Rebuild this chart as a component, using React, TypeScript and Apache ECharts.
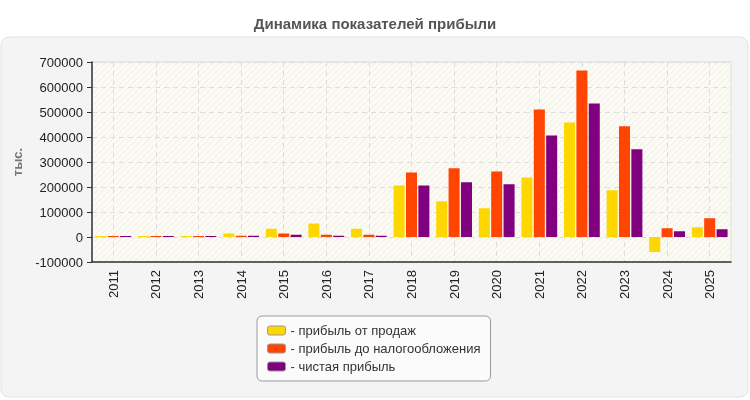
import React, { useEffect, useRef } from "react";
import * as echarts from "echarts";

const years = ["2011","2012","2013","2014","2015","2016","2017","2018","2019","2020","2021","2022","2023","2024","2025"];
const salesProfit = [4000, 4000, 4000, 14000, 33000, 54000, 33000, 206000, 143000, 115000, 238000, 458000, 187000, -60000, 39000];
const preTaxProfit = [4000, 4000, 4000, 5000, 14000, 9000, 9000, 258000, 275000, 262000, 510000, 666000, 443000, 35000, 75000];
const netProfit = [4000, 4000, 4000, 5000, 9000, 5000, 5000, 206000, 219000, 211000, 406000, 534000, 351000, 23000, 31000];
const seriesNames = ["прибыль от продаж", "прибыль до налогообложения", "чистая прибыль"];
const seriesColors = ["#FFD700", "#FF4500", "#800080"];

function makeHatch(): any {
  const c = document.createElement("canvas");
  c.width = 6;
  c.height = 6;
  const ctx = c.getContext("2d");
  if (!ctx) return "#fbfbf4";
  ctx.fillStyle = "#fbfbf4";
  ctx.fillRect(0, 0, 6, 6);
  ctx.strokeStyle = "#ededea";
  ctx.lineWidth = 1;
  ctx.beginPath();
  ctx.moveTo(-1, 7);
  ctx.lineTo(7, -1);
  ctx.moveTo(-1, 1);
  ctx.lineTo(1, -1);
  ctx.moveTo(5, 7);
  ctx.lineTo(7, 5);
  ctx.stroke();
  return { image: c, repeat: "repeat" };
}

export default function App() {
  const ref = useRef<HTMLDivElement>(null);
  useEffect(() => {
    if (!ref.current) return;
    const chart = echarts.init(ref.current, null, { renderer: "svg" });
    const font = "'Liberation Sans', Arial, sans-serif";
    const values = [salesProfit, preTaxProfit, netProfit];
    chart.setOption({
      animation: false,
      textStyle: { fontFamily: font },
      title: {
        text: "Динамика показателей прибыли",
        left: "center",
        top: 11,
        textStyle: { fontSize: 15, fontWeight: "bold", color: "#555", fontFamily: font },
      },
      graphic: [
        {
          type: "rect",
          z: -10,
          shape: { x: 1, y: 37, width: 747, height: 360, r: 8 },
          style: { fill: "#f4f4f4", stroke: "#e2e2e2", lineWidth: 1 },
        },
      ],
      grid: {
        left: 92,
        right: 19,
        top: 62,
        bottom: 138,
        show: true,
        backgroundColor: makeHatch(),
        borderColor: "#dddddd",
        borderWidth: 1,
      },
      legend: {
        orient: "vertical",
        left: 257,
        top: 316,
        padding: [8, 10, 8, 10],
        itemGap: 5,
        itemWidth: 18,
        itemHeight: 9,
        icon: "roundRect",
        backgroundColor: "#fbfbfb",
        borderColor: "#9a9a9a",
        borderWidth: 1,
        borderRadius: 5,
        formatter: "- {name}",
        itemStyle: { borderColor: "#999", borderWidth: 1 },
        textStyle: { fontSize: 13, color: "#333", fontFamily: font },
        data: seriesNames,
      },
      xAxis: {
        type: "category",
        data: years,
        boundaryGap: true,
        axisLine: { onZero: false, lineStyle: { color: "#333", width: 1.5 } },
        axisTick: { alignWithLabel: true, length: 5, lineStyle: { color: "#333" } },
        axisLabel: { rotate: 90, fontSize: 13, color: "#222", margin: 8, fontFamily: font },
        splitLine: { show: true, alignWithLabel: true, lineStyle: { color: "#dddddd", type: [5, 4] } },
      },
      yAxis: {
        type: "value",
        min: -100000,
        max: 700000,
        interval: 100000,
        name: "тыс.",
        nameLocation: "middle",
        nameRotate: 90,
        nameGap: 66,
        nameTextStyle: { fontSize: 13, fontWeight: "bold", color: "#777", fontFamily: font },
        axisLine: { show: true, lineStyle: { color: "#333", width: 1.5 } },
        axisTick: { show: true, length: 5, lineStyle: { color: "#333" } },
        axisLabel: { fontSize: 13, color: "#222", margin: 9, fontFamily: font, formatter: (v: number) => String(v) },
        splitLine: { show: true, lineStyle: { color: "#dddddd", type: [5, 4] } },
      },
      series: seriesNames.map((name, i) => ({
        name,
        type: "bar",
        data: values[i],
        barGap: "12%",
        barCategoryGap: "16%",
        itemStyle: { color: seriesColors[i] },
      })),
    });
    return () => chart.dispose();
  }, []);
  return <div ref={ref} style={{ position: "fixed", left: 0, top: 0, width: 750, height: 400 }} />;
}
